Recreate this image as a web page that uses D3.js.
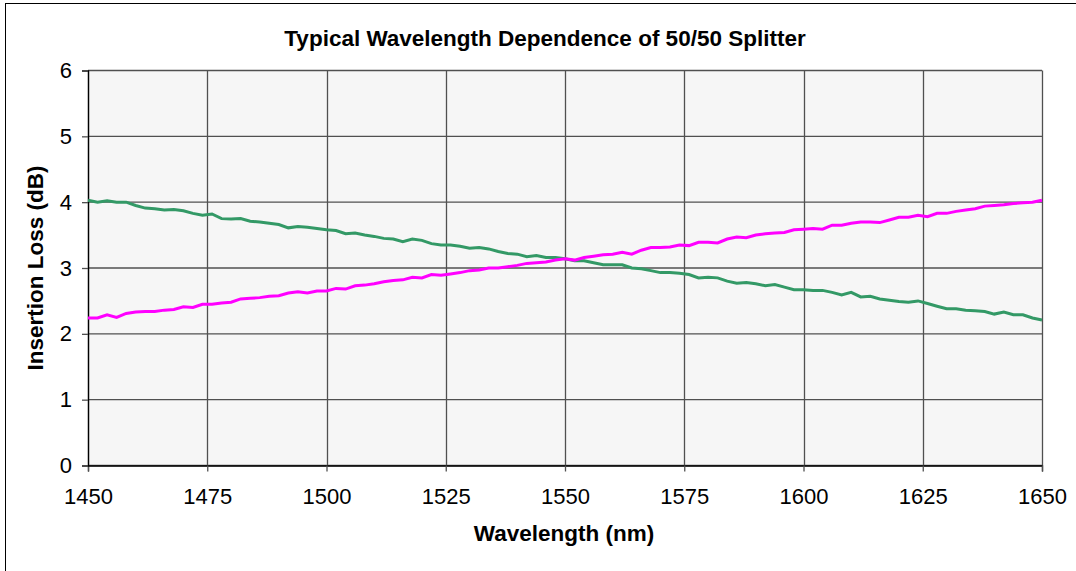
<!DOCTYPE html>
<html>
  <head>
    <meta charset="utf-8">
    <title>Typical Wavelength Dependence of 50/50 Splitter</title>
    <script src="https://d3js.org/d3.v7.min.js"></script>
    <style>
      body { margin: 0; background: #fff; }
      svg text { font-family: "Liberation Sans", Arial, sans-serif; fill: #000; }
    </style>
  </head>
  <body>
    <div id="chart"></div>

    <script type="text/javascript">
      // wavelength grid in nm, every 2 nm
      var wavelengths = d3.range(1450, 1651, 2);

      // port 1 (green), dB
      var port1Loss = [
        4.03, 4.00, 4.02, 4.00, 4.00, 3.95, 3.91, 3.90, 3.88, 3.89,
        3.87, 3.83, 3.80, 3.82, 3.75, 3.745, 3.75, 3.71, 3.70, 3.68,
        3.66, 3.61, 3.63, 3.62, 3.60, 3.58, 3.57, 3.52, 3.53, 3.50,
        3.48, 3.45, 3.44, 3.40, 3.44, 3.42, 3.37, 3.35, 3.35, 3.33,
        3.30, 3.31, 3.29, 3.25, 3.22, 3.21, 3.17, 3.19, 3.16, 3.16,
        3.14, 3.11, 3.11, 3.08, 3.05, 3.05, 3.05, 3.00, 2.99, 2.96,
        2.93, 2.93, 2.92, 2.90, 2.85, 2.86, 2.85, 2.80, 2.77, 2.78,
        2.76, 2.73, 2.75, 2.71, 2.67, 2.67, 2.66, 2.66, 2.63, 2.59,
        2.63, 2.56, 2.57, 2.53, 2.51, 2.49, 2.48, 2.50, 2.46, 2.42,
        2.38, 2.38, 2.36, 2.35, 2.34, 2.30, 2.33, 2.29, 2.29, 2.24,
        2.21
      ];

      // port 2 (magenta), dB
      var port2Loss = [
        2.24, 2.24, 2.29, 2.25, 2.31, 2.33, 2.34, 2.34, 2.36, 2.37,
        2.41, 2.40, 2.45, 2.45, 2.47, 2.48, 2.53, 2.54, 2.55, 2.57,
        2.58, 2.62, 2.64, 2.62, 2.65, 2.65, 2.69, 2.68, 2.73, 2.74,
        2.76, 2.79, 2.81, 2.82, 2.86, 2.85, 2.90, 2.89, 2.91, 2.93,
        2.96, 2.97, 3.00, 3.00, 3.02, 3.04, 3.07, 3.08, 3.09, 3.12,
        3.14, 3.12, 3.16, 3.18, 3.20, 3.21, 3.24, 3.21, 3.27, 3.31,
        3.31, 3.32, 3.35, 3.34, 3.39, 3.39, 3.38, 3.44, 3.47, 3.46,
        3.50, 3.52, 3.53, 3.54, 3.58, 3.59, 3.60, 3.59, 3.65, 3.65,
        3.68, 3.70, 3.70, 3.69, 3.73, 3.77, 3.77, 3.80, 3.78, 3.83,
        3.83, 3.86, 3.88, 3.90, 3.94, 3.95, 3.96, 3.98, 3.99, 4.00,
        4.03
      ];

      var xTicks = [1450, 1475, 1500, 1525, 1550, 1575, 1600, 1625, 1650];
      var yTicks = [0, 1, 2, 3, 4, 5, 6];

      var width = 1076,
          height = 571;

      var margin = {top: 70.5, right: 34, bottom: 105.5, left: 88};
      var plotW = width - margin.left - margin.right,
          plotH = height - margin.top - margin.bottom;

      var svg = d3.select('#chart').append('svg')
          .attr('width', width)
          .attr('height', height);

      // outer frame (only top and left edges show inside the window)
      svg.append('rect')
          .attr('x', 5.5).attr('y', 3.5)
          .attr('width', width + 10).attr('height', height + 10)
          .attr('fill', '#fff')
          .attr('stroke', '#000')
          .attr('stroke-width', 1);

      var g = svg.append('g')
          .attr('transform', 'translate(' + margin.left + ',' + margin.top + ')');

      var x = d3.scaleLinear().domain([1450, 1650]).range([0, plotW]);
      var y = d3.scaleLinear().domain([0, 6]).range([plotH, 0]);

      g.append('rect')
          .attr('width', plotW)
          .attr('height', plotH)
          .attr('fill', '#f6f6f6');

      // gridlines
      g.append('g').selectAll('line')
          .data(xTicks)
          .enter().append('line')
          .attr('x1', function(d) { return Math.round(x(d)) + 0.5; })
          .attr('x2', function(d) { return Math.round(x(d)) + 0.5; })
          .attr('y1', 0).attr('y2', plotH)
          .attr('stroke', '#505050')
          .attr('stroke-width', 1.3);

      g.append('g').selectAll('line')
          .data(yTicks)
          .enter().append('line')
          .attr('x1', 0).attr('x2', plotW)
          .attr('y1', function(d) { return y(d); })
          .attr('y2', function(d) { return y(d); })
          .attr('stroke', '#505050')
          .attr('stroke-width', 1.3);

      // axes
      var xAxis = g.append('g')
          .attr('transform', 'translate(0,' + plotH + ')')
          .call(d3.axisBottom(x).tickValues(xTicks).tickSize(6).tickPadding(17).tickFormat(d3.format('d')));

      var yAxis = g.append('g')
          .call(d3.axisLeft(y).tickValues(yTicks).tickSize(6).tickPadding(10).tickFormat(d3.format('d')));

      [xAxis, yAxis].forEach(function(a) {
        a.select('.domain').attr('stroke', '#000').attr('stroke-width', 1.3);
        a.selectAll('.tick line').attr('stroke', '#505050').attr('stroke-width', 1.3);
        a.selectAll('.tick text')
            .style('font-family', '"Liberation Sans", Arial, sans-serif')
            .style('font-size', '22px')
            .attr('fill', '#000');
      });

      // series
      var line = d3.line()
          .x(function(d, i) { return x(wavelengths[i]); })
          .y(function(d) { return y(d); });

      g.append('path')
          .datum(port1Loss)
          .attr('fill', 'none')
          .attr('stroke', '#339966')
          .attr('stroke-width', 3)
          .attr('d', line);

      g.append('path')
          .datum(port2Loss)
          .attr('fill', 'none')
          .attr('stroke', '#ff00ff')
          .attr('stroke-width', 3)
          .attr('d', line);

      // titles
      svg.append('text')
          .attr('x', 545)
          .attr('y', 46)
          .attr('text-anchor', 'middle')
          .style('font-size', '22.5px')
          .style('font-weight', 'bold')
          .text('Typical Wavelength Dependence of 50/50 Splitter');

      svg.append('text')
          .attr('x', 564)
          .attr('y', 541)
          .attr('text-anchor', 'middle')
          .style('font-size', '22.5px')
          .style('font-weight', 'bold')
          .text('Wavelength (nm)');

      svg.append('text')
          .attr('transform', 'translate(43,' + (margin.top + plotH / 2) + ') rotate(-90)')
          .attr('text-anchor', 'middle')
          .style('font-size', '22.5px')
          .style('font-weight', 'bold')
          .text('Insertion Loss (dB)');
    </script>
  </body>
</html>
